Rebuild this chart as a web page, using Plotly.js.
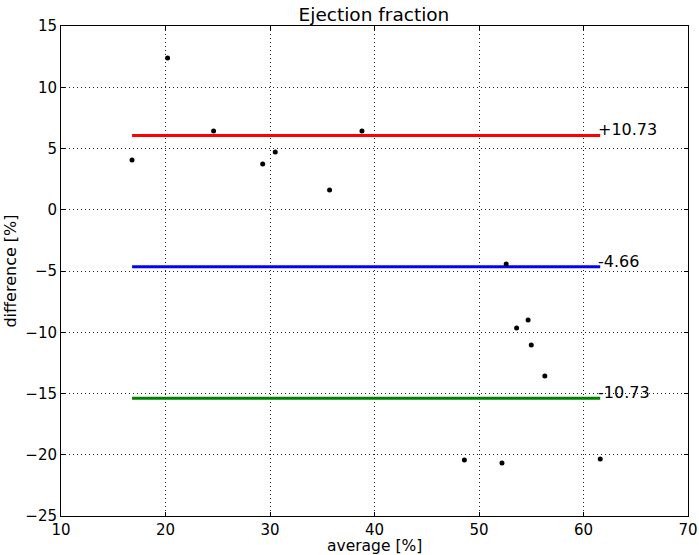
<!DOCTYPE html>
<html>
<head>
<meta charset="utf-8">
<script src="https://cdn.plot.ly/plotly-3.0.1.min.js"></script>
<style>
  html, body { margin: 0; padding: 0; background: #fff; }
  #chart { width: 699px; height: 555px; }
</style>
</head>
<body>
<div id="chart"></div>
<script>
// Bland-Altman: ejection fraction
const avgValues = [16.8, 20.2, 24.6, 29.3, 30.5, 35.7, 38.8, 52.6, 53.6, 54.7, 55.0, 56.3, 48.6, 52.2, 61.6];
const diffValues = [4.06, 12.39, 6.43, 3.73, 4.71, 1.61, 6.43, -4.43, -9.65, -9.0, -11.04, -13.57, -20.43, -20.67, -20.35];
const meanDiff = -4.66;
const limitSpread = 10.73;
const limitLabels = ['+10.73', '-4.66', '-10.73'];
const limitColors = ['#ff0000', '#0000ff', '#008000'];

const xMin = Math.min(...avgValues);
const xMax = Math.max(...avgValues);
const levels = [meanDiff + limitSpread, meanDiff, meanDiff - limitSpread];

const FONT = { family: 'DejaVu Sans, sans-serif', color: '#000', size: 16 };

const traces = levels.map((lv, i) => ({
    x: [xMin, xMax], y: [lv, lv],
    mode: 'lines',
    line: { color: limitColors[i], width: 3 },
    hoverinfo: 'skip',
}));

traces.push({
    x: avgValues, y: diffValues,
    mode: 'markers',
    marker: { size: 5, color: '#000' },
});

const annotations = levels.map((lv, i) => ({
    x: xMax, y: lv, xref: 'x', yref: 'y',
    text: limitLabels[i],
    showarrow: false,
    xanchor: 'left', yanchor: 'bottom',
    xshift: -4, yshift: -6,
    font: FONT,
}));

// x axis title placed by hand, tight under the tick labels as in the original
annotations.push({
    x: 0.5, y: 0, xref: 'paper', yref: 'paper',
    text: 'average [%]', showarrow: false,
    xanchor: 'center', yanchor: 'middle', yshift: -30,
    borderpad: 0,
    font: { ...FONT, size: 15.5 },
});

const axisCommon = {
    showline: true, linecolor: '#000', linewidth: 1, mirror: 'ticks',
    ticks: 'inside', ticklen: 4, tickcolor: '#000',
    showgrid: true, gridcolor: '#222', gridwidth: 1, griddash: '1px,3px',
    zeroline: false,
    tickfont: { ...FONT, size: 15 },
};

Plotly.newPlot('chart', traces, {
    width: 699, height: 555,
    paper_bgcolor: '#fff', plot_bgcolor: '#fff',
    font: FONT,
    showlegend: false,
    margin: { l: 61, r: 11, t: 26, b: 39 },
    title: { text: 'Ejection fraction', font: { ...FONT, size: 18.5 }, x: 0.535, xanchor: 'center', y: 0.985, yanchor: 'top' },
    xaxis: { ...axisCommon, range: [10, 70], dtick: 10, ticklabelstandoff: 0 },
    yaxis: { ...axisCommon, range: [-25, 15], dtick: 5, title: { text: 'difference [%]', font: FONT, standoff: 4 } },
    annotations,
}, { displayModeBar: false });
</script>
</body>
</html>
